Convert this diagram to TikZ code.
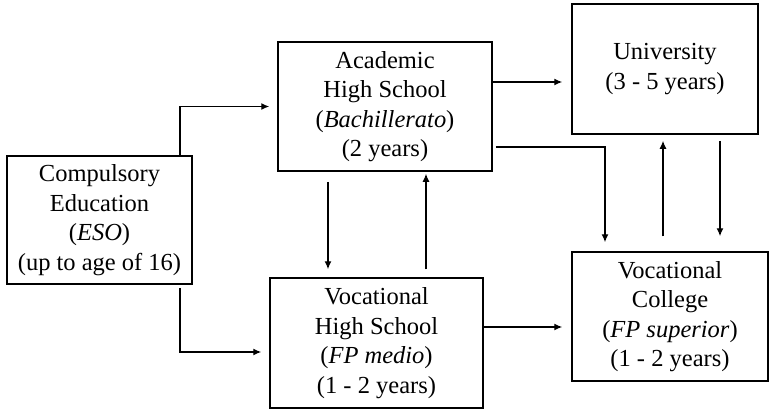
\documentclass[tikz,border=0pt]{standalone}
\usepackage{fontspec}
\setmainfont{Liberation Serif}
\usetikzlibrary{arrows.meta}
\tikzstyle{box} = [rectangle, draw, line width=1.5pt, align=center,
    inner sep=0pt, font=\fontsize{24.5}{29.5}\selectfont]
\tikzstyle{arr} = [-{Latex[length=8pt,width=7pt]}, line width=1.3pt]

\begin{document}
\begin{tikzpicture}[x=1pt,y=-1pt]
  \useasboundingbox (0,0) rectangle (770,410);
  \node[box,minimum width=185pt,minimum height=128pt] (ce) at (99.5,220)
    {Compulsory\\Education\\(\textit{ESO})\\(up to age of 16)};
  \node[box,minimum width=214pt,minimum height=129pt] (ahs) at (385,106.5)
    {Academic\\High School\\(\textit{Bachillerato})\\(2 years)};
  \node[box,minimum width=186pt,minimum height=130pt] (uni) at (665,69)
    {University\\(3 - 5 years)};
  \node[box,minimum width=213pt,minimum height=130pt] (vhs) at (376.5,343)
    {Vocational\\High School\\(\textit{FP medio})\\(1 - 2 years)};
  \node[box,minimum width=196pt,minimum height=129pt] (vc) at (670,316.5)
    {Vocational\\College\\(\textit{FP superior})\\(1 - 2 years)};

  % from compulsory education
  \draw[arr, shorten >=8pt] ([xshift=80.5pt]ce.north) |- (ahs.west);
  \draw[arr, shorten <=3pt, shorten >=8pt] ([xshift=80.5pt]ce.south) |- ([yshift=-9pt]vhs.west);

  % from academic high school
  \draw[arr, shorten >=9pt] ([yshift=24.5pt]ahs.east) -- ([yshift=24.5pt]ahs.east -| uni.west);
  \draw[arr, shorten <=3pt, shorten >=9pt] ([yshift=-40.5pt]ahs.east) -| ([xshift=-65pt]vc.north);
  \draw[arr, shorten <=10pt, shorten >=8pt] ([xshift=-57pt]ahs.south) -- ([xshift=-57pt]ahs.south |- vhs.north);

  % from vocational high school
  \draw[arr, shorten <=8pt, shorten >=2pt] ([xshift=41pt]ahs.south |- vhs.north) -- ([xshift=41pt]ahs.south);
  \draw[arr, shorten >=9pt] ([yshift=16pt]vhs.east) -- ([yshift=16pt]vhs.east -| vc.west);

  % university and vocational college
  \draw[arr, shorten <=15pt, shorten >=6pt] ([xshift=-2pt]uni.south |- vc.north) -- ([xshift=-2pt]uni.south);
  \draw[arr, shorten <=6pt, shorten >=15pt] ([xshift=55pt]uni.south) -- ([xshift=55pt]uni.south |- vc.north);
\end{tikzpicture}
\end{document}
